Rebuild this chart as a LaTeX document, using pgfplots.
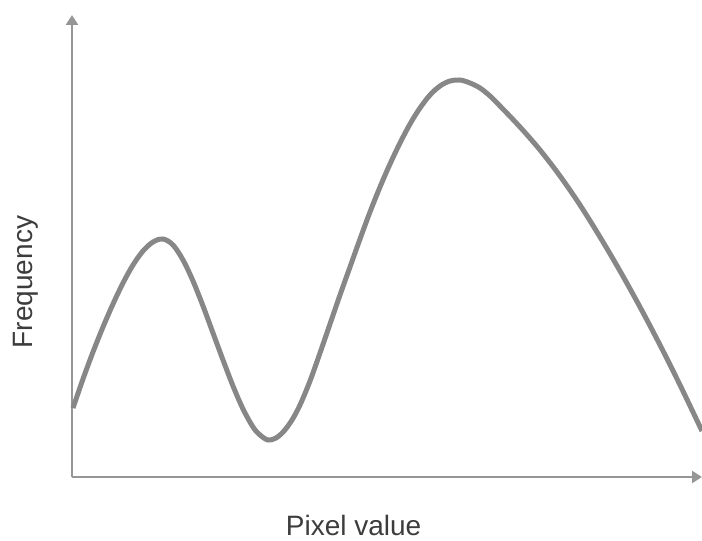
\documentclass[border=0pt]{standalone}
\usepackage{pgfplots}
\pgfplotsset{compat=1.18}
\usepackage{fontspec}
\setmainfont{Liberation Sans}
\usetikzlibrary{arrows.meta}
\definecolor{axgray}{RGB}{150,150,150}
\definecolor{curvegray}{RGB}{135,135,135}
\definecolor{txtgray}{RGB}{60,60,60}
\begin{document}
\begin{tikzpicture}
\path[use as bounding box] (0,0) rectangle (351pt,270.5pt);
\begin{axis}[
  at={(36pt,32pt)}, anchor=south west,
  scale only axis, width=315pt, height=231pt,
  xmin=0, xmax=630, ymin=0, ymax=462,
  axis lines=left,
  axis line style={draw=axgray, line width=1.25pt, -{Triangle[width=6pt,length=5pt]}},
  xtick=\empty, ytick=\empty,
  clip=false,
  label style={font=\fontsize{14}{16}\selectfont, text=txtgray},
  xlabel={Pixel value},
  ylabel={Frequency},
  xlabel style={at={(axis description cs:0.447,0)}, anchor=base, yshift=-29pt},
  ylabel style={at={(axis description cs:-0.0619,0.422)}, anchor=base},
]
\addplot[curvegray, line width=2.5pt, smooth, tension=0.55] coordinates {
(1,69) (11,98) (21,125) (31,150) (41,173) (51,194) (61,212) (71,226) (81,235) (91,238)
(101,232) (111,217) (121,196) (131,171) (141,144) (151,117) (161,91) (171,68) (181,50)
(188,42) (196,37) (204,39) (212,46) (220,57) (228,72) (238,96) (248,124) (258,153)
(268,182) (278,210) (288,238) (298,265) (308,290) (318,313) (328,334) (338,353) (348,369)
(358,382) (368,391) (378,396) (388,397) (398,394) (408,389) (418,381) (428,371) (448,350)
(468,327) (488,301) (508,272) (528,240) (548,206) (568,170) (588,132) (608,92) (630,46)
};
\end{axis}
\end{tikzpicture}
\end{document}
